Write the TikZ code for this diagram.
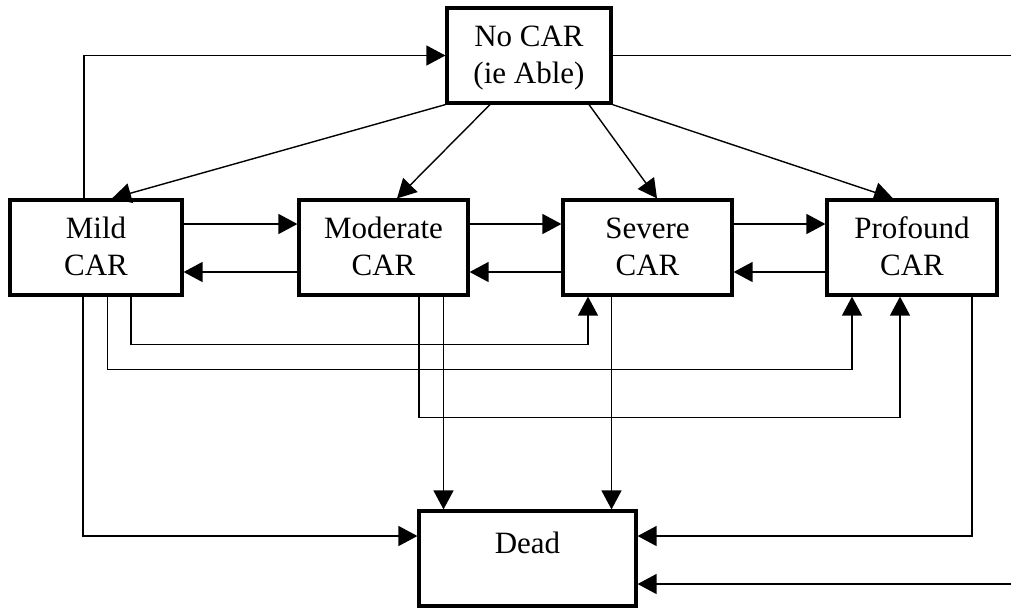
\documentclass[tikz,border=0pt]{standalone}
\usepackage{fontspec}
\setmainfont{Liberation Serif}
\usetikzlibrary{arrows.meta,calc}
\tikzset{
  statebox/.style={draw, line width=1.6pt, inner sep=0pt, align=center,
    font=\fontsize{15.5pt}{18.5pt}\selectfont,
    text height=28.5pt, text depth=1pt},
  conn/.style={line width=0.7pt},
  arr/.style={conn, -{Triangle[length=9.5pt,width=10pt]}}
}
\begin{document}
\begin{tikzpicture}[x=0.5pt,y=-0.5pt]
\useasboundingbox (0,0) rectangle (1011,607);
% nodes
\node[statebox, minimum width=82pt, minimum height=47.5pt] (nocar) at (529,55.5) {No CAR\\(ie Able)};
\node[statebox, minimum width=86pt, minimum height=47.5pt] (mild) at (96,247.5) {Mild\\CAR};
\node[statebox, minimum width=84.5pt, minimum height=47.5pt] (moderate) at (383.5,247.5) {Moderate\\CAR};
\node[statebox, minimum width=84.5pt, minimum height=47.5pt] (severe) at (647.5,247.5) {Severe\\CAR};
\node[statebox, minimum width=85pt, minimum height=47.5pt] (profound) at (912,247.5) {Profound\\CAR};
\node[statebox, minimum width=108.5pt, minimum height=47.5pt, text height=10pt, text depth=15.5pt] (dead) at (527.5,558.5) {Dead};
\coordinate (edgeTop) at (1011,55.5);
\coordinate (edgeBot) at (1011,584);

% Mild -> No CAR
\draw[arr] ($(mild.north)+(-12,0)$) |- (nocar.west);
% No CAR -> off to the right
\draw[conn] (nocar.east) -- (nocar.east -| edgeTop);
% off from the right -> Dead
\draw[arr] (edgeBot) -- (dead.east |- edgeBot);

% diagonals from No CAR
\draw[arr] (nocar.south west) -- ($(mild.north)+(16,0)$);
\draw[arr] ($(nocar.south)+(-39,0)$) -- ($(moderate.north)+(13.5,0)$);
\draw[arr] ($(nocar.south)+(60,0)$) -- ($(severe.north)+(9.5,0)$);
\draw[arr] (nocar.south east) -- ($(profound.north)+(-19,0)$);

% horizontal pairs
\draw[arr] ($(mild.east)+(0,-23.5)$) -- ($(moderate.west)+(0,-23.5)$);
\draw[arr] ($(moderate.west)+(0,24.5)$) -- ($(mild.east)+(0,24.5)$);
\draw[arr] ($(moderate.east)+(0,-23.5)$) -- ($(severe.west)+(0,-23.5)$);
\draw[arr] ($(severe.west)+(0,24.5)$) -- ($(moderate.east)+(0,24.5)$);
\draw[arr] ($(severe.east)+(0,-23.5)$) -- ($(profound.west)+(0,-23.5)$);
\draw[arr] ($(profound.west)+(0,24.5)$) -- ($(severe.east)+(0,24.5)$);

% lower routing
\draw[arr] ($(mild.south)+(35,0)$) -- ++(0,48) -| ($(severe.south)+(-59.5,0)$);
\draw[arr] ($(mild.south)+(11.5,0)$) -- ++(0,73) -| ($(profound.south)+(-60,0)$);
\draw[arr] ($(mild.south)+(-13,0)$) |- ($(dead.west)+(0,-22.5)$);
\draw[arr] ($(moderate.south)+(35.5,0)$) -- ++(0,121) -| ($(profound.south)+(-12,0)$);
\draw[arr] ($(moderate.south)+(60,0)$) -- ($(dead.north)+(-84,0)$);
\draw[arr] ($(severe.south)+(-36,0)$) -- ($(dead.north)+(84,0)$);
\draw[arr] ($(profound.south)+(60,0)$) |- ($(dead.east)+(0,-22.5)$);
\end{tikzpicture}
\end{document}
